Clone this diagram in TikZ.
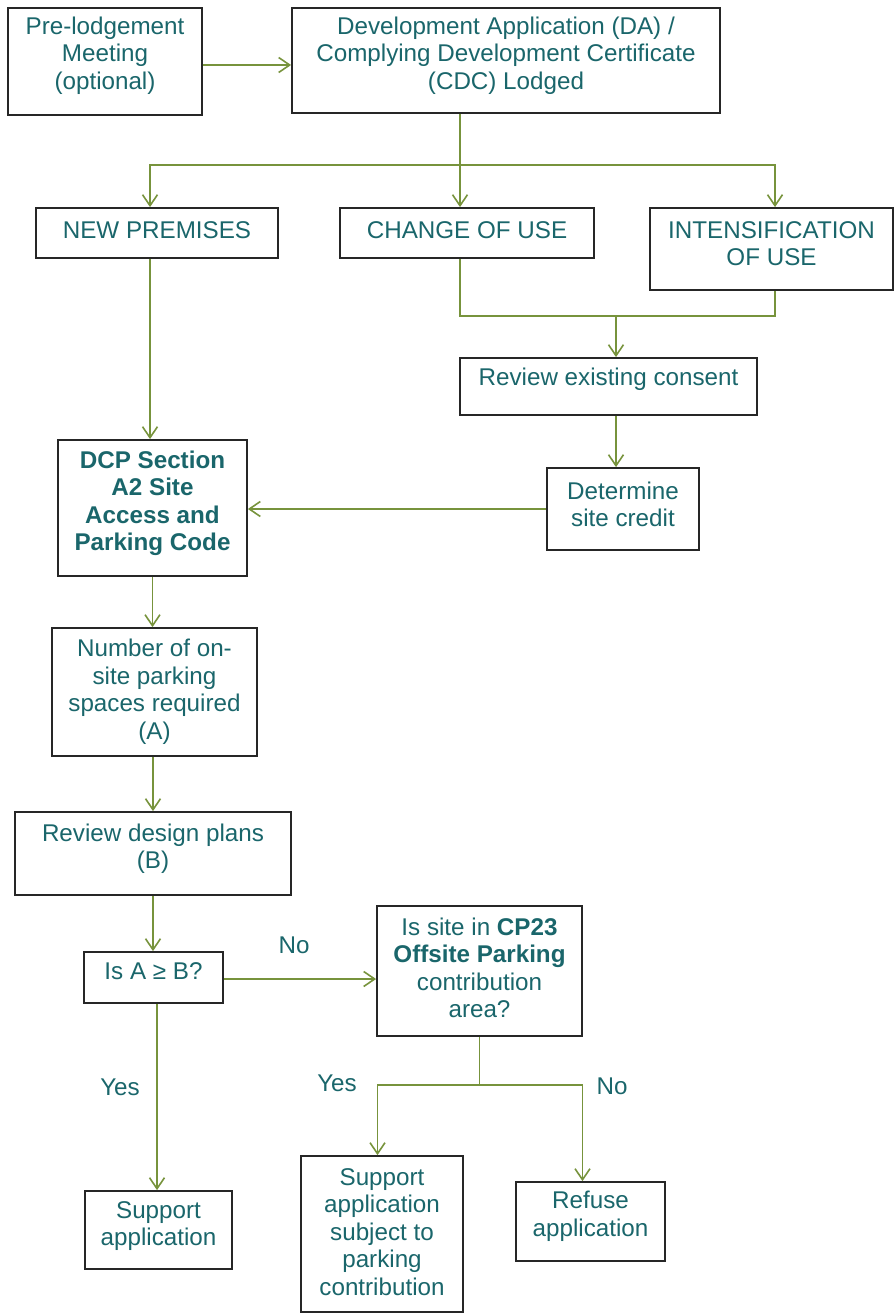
\documentclass[tikz,border=0pt]{standalone}
\usepackage{fontspec}
\setmainfont{Liberation Sans}
\usetikzlibrary{arrows.meta}
\definecolor{tealtxt}{HTML}{1A666B}
\definecolor{lgreen}{HTML}{77933C}
\definecolor{boxline}{HTML}{262626}
\begin{document}
\begin{tikzpicture}[x=1pt,y=-1pt,
  box/.style={draw=boxline,line width=1.8pt,fill=white,inner sep=0pt,rectangle},
  txt/.style={text=tealtxt,align=center,inner sep=0pt,font=\fontsize{24.2}{27.5}\selectfont},
  ln/.style={draw=lgreen,line width=1.8pt},
  arr/.style={ln,-{Straight Barb[length=11pt,width=15pt,line width=1.6pt]}}]
\useasboundingbox (0,0) rectangle (894,1313);
% boxes
\node[box,minimum width=194pt,minimum height=107pt] (pre) at (105,61.5) {};
\node[box,minimum width=428pt,minimum height=105pt] (da) at (506,60.5) {};
\node[box,minimum width=242pt,minimum height=50pt] (np) at (157,233) {};
\node[box,minimum width=254pt,minimum height=50pt] (cu) at (467,233) {};
\node[box,minimum width=243pt,minimum height=82pt] (iu) at (771.5,249) {};
\node[box,minimum width=297pt,minimum height=57pt] (rec) at (608.5,386.5) {};
\node[box,minimum width=152pt,minimum height=82pt] (dsc) at (623,509) {};
\node[box,minimum width=189pt,minimum height=136pt] (dcp) at (152.5,508) {};
\node[box,minimum width=205pt,minimum height=128pt] (num) at (154.5,692) {};
\node[box,minimum width=276pt,minimum height=83pt] (rdp) at (153,853.5) {};
\node[box,minimum width=139pt,minimum height=51pt] (isab) at (153.5,977.5) {};
\node[box,minimum width=205pt,minimum height=130pt] (cp) at (479.5,971) {};
\node[box,minimum width=147pt,minimum height=78pt] (sup) at (158.5,1230) {};
\node[box,minimum width=162pt,minimum height=156pt] (sas) at (382,1234) {};
\node[box,minimum width=149pt,minimum height=79pt] (ref) at (590.5,1221.5) {};
% texts
\node[txt] (pre-t) at (105,55.5) {Pre-lodgement\\Meeting\\(optional)};
\node[txt] (da-t) at (506,55.5) {Development Application (DA) /\\Complying Development Certificate\\(CDC) Lodged};
\node[txt] (np-t) at (157,230) {NEW PREMISES};
\node[txt] (cu-t) at (467,230) {CHANGE OF USE};
\node[txt] (iu-t) at (771.5,243.5) {INTENSIFICATION\\OF USE};
\node[txt] (rec-t) at (608.5,379) {Review existing consent};
\node[txt] (dsc-t) at (623,504.5) {Determine\\site credit};
\node[txt,font=\fontsize{24.2}{27.5}\selectfont\bfseries] (dcp-t) at (152.5,503.5) {DCP Section\\A2 Site\\Access and\\Parking Code};
\node[txt] (num-t) at (154.5,691.5) {Number of on-\\site parking\\spaces required\\(A)};
\node[txt] (rdp-t) at (153,848.5) {Review design plans\\(B)};
\node[txt] (isab-t) at (153.5,971) {Is A ≥ B?};
\node[txt] (cp-t) at (479.5,968) {Is site in \textbf{CP23}\\\textbf{Offsite Parking}\\contribution\\area?};
\node[txt] (sup-t) at (158.5,1226) {Support\\application};
\node[txt] (sas-t) at (382,1232) {Support\\application\\subject to\\parking\\contribution};
\node[txt] (ref-t) at (590.5,1216) {Refuse\\application};
% labels
\node[txt] (l-no1) at (294,945) {No};
\node[txt] (l-yes1) at (120,1087) {Yes};
\node[txt] (l-yes2) at (337,1083) {Yes};
\node[txt] (l-no2) at (612,1086) {No};
% junctions
\coordinate (j1) at (460,165);
\coordinate (j2) at (616,316);
\coordinate (j3) at (479.5,1085);
% connectors
\draw[arr] ([yshift=-3.5pt]pre.east) -- ([yshift=-3.5pt]pre.east -| da.west);
\draw[ln] (da.south -| j1) -- (j1);
\draw[arr] (j1) -| ([xshift=-7pt]np.north);
\draw[arr] (j1) -- (j1 |- cu.north);
\draw[arr] (j1) -| ([xshift=3.5pt]iu.north);
\draw[ln] (cu.south -| j1) |- (j2);
\draw[ln] ([xshift=3.5pt]iu.south) |- (j2);
\draw[arr] (j2) -- (j2 |- rec.north);
\draw[arr] (j2 |- rec.south) -- (j2 |- dsc.north);
\draw[arr] (dsc.west) -- (dsc.west -| dcp.east);
\draw[arr] ([xshift=-7pt]np.south) -- ([xshift=-7pt]np.south |- dcp.north);
\draw[arr] (dcp.south) -- (dcp.south |- num.north);
\draw[arr] (num.south -| rdp.north) -- (rdp.north);
\draw[arr] (rdp.south) -- (rdp.south |- isab.north);
\draw[arr] ([yshift=-1.5pt]isab.east) -- ([yshift=-1.5pt]isab.east -| cp.west);
\draw[arr] ([xshift=3.5pt]isab.south) -- ([xshift=-1.5pt]sup.north);
\draw[ln] (cp.south) -- (j3);
\draw[arr] (j3) -| ([xshift=-4.5pt]sas.north);
\draw[arr] (j3) -| ([xshift=-8pt]ref.north);
\end{tikzpicture}
\end{document}
